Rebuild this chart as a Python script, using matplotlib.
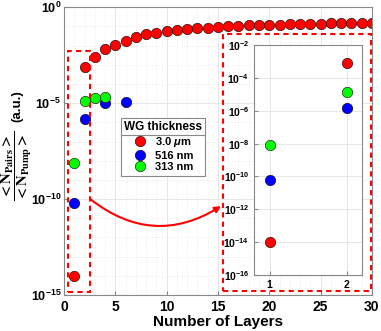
import numpy as np
import matplotlib
matplotlib.use("Agg")
import matplotlib.pyplot as plt
from matplotlib.patches import Rectangle
from matplotlib.lines import Line2D

plt.rcParams['font.family'] = ['Liberation Sans', 'DejaVu Sans']
plt.rcParams['font.weight'] = 'bold'
plt.rcParams['mathtext.fontset'] = 'custom'
plt.rcParams['mathtext.rm'] = 'Liberation Sans:bold'
plt.rcParams['mathtext.bf'] = 'Liberation Sans:bold'
plt.rcParams['mathtext.it'] = 'Liberation Sans:italic:bold'

# data (log10 of <N_pairs>/<N_pump>)
layers_red = list(range(1, 31))
log_red = [-14.0, -3.12, -2.59, -2.17, -1.97, -1.74, -1.55, -1.41, -1.32, -1.24,
           -1.20, -1.15, -1.09, -1.06, -1.02, -0.99, -0.97, -0.95, -0.93, -0.91,
           -0.90, -0.88, -0.87, -0.86, -0.85, -0.84, -0.83, -0.82, -0.81, -0.80]
layers_blue = [1, 2, 4, 6]
log_blue = [-10.2, -5.82, -4.99, -4.95]
layers_green = [1, 2, 3, 4]
log_green = [-8.1, -4.87, -4.73, -4.68]
labels = ['3.0 $\\mu$m', '516 nm', '313 nm']
colors = ['#ff0000', '#0000ff', '#00ff00']

series = [(layers_red, log_red), (layers_blue, log_blue), (layers_green, log_green)]

fig = plt.figure(figsize=(3.81, 3.31), dpi=100)
ax = fig.add_axes([0.168, 0.109, 0.808, 0.869])

for (xs, ys), c, lab in zip(series, colors, labels):
    ax.plot(xs, 10.0 ** np.array(ys), 'o', ms=7.5, mfc=c, mec='k', mew=0.4, label=lab)

ax.set_yscale('log')
ax.set_xlim(0, 30)
ax.set_ylim(1e-15, 1e0)
ax.set_xticks([0, 5, 10, 15, 20, 25, 30])
ax.set_xticks(np.arange(0, 31, 1), minor=True)
ax.set_yticks([1e-15, 1e-10, 1e-5, 1e0])
ax.set_yticklabels(['$\\mathbf{10^{-15}}$', '$\\mathbf{10^{-10}}$', '$\\mathbf{10^{-5}}$', '$\\mathbf{10^{0}}$'])
ax.set_yticks([10.0 ** k for k in range(-15, 1)], minor=True)
ax.yaxis.set_minor_formatter(plt.NullFormatter())
ax.tick_params(which='both', direction='in', color='#888888', labelsize=10)
ax.tick_params(axis='y', labelsize=9, pad=2)
ax.tick_params(which='minor', length=0)
ax.tick_params(which='major', length=3)
ax.grid(True, which='major', color='#e3e3e3', lw=0.6)
ax.grid(True, which='minor', color='#e6e6e6', lw=0.6, ls=(0, (1, 2)))
ax.set_axisbelow(True)
for s in ax.spines.values():
    s.set_color('#888888')
    s.set_linewidth(0.8)

ax.set_xlabel('Number of Layers', fontsize=11, fontweight='bold', labelpad=1)
# y label: big serif fraction plus "(a.u.)"
fig.text(17 / 381, 1 - 166 / 331, r'$\dfrac{<\mathbf{N_{Pairs}}>}{<\mathbf{N_{Pump}}>}$',
         rotation=90, fontsize=10.5, math_fontfamily='stix', ha='center', va='center')
fig.text(17 / 381, 1 - 106 / 331, '(a.u.)', rotation=90, fontsize=9.5,
         fontweight='bold', ha='center', va='center')

# dashed zoom boxes
box_kw = dict(fill=False, ec='#ff0000', lw=1.5, ls=(0, (2.5, 2)), clip_on=False, zorder=4)
ax.add_patch(Rectangle((0.36, 10 ** -14.83), 2.2, 10 ** -2.28 - 10 ** -14.83, **box_kw))
ax.add_patch(Rectangle((15.45, 10 ** -14.79), 14.5, 10 ** -1.41 - 10 ** -14.79, **box_kw))

ax.annotate('', xy=(15.3, 10 ** -10.37), xytext=(2.55, 1e-10),
            arrowprops=dict(arrowstyle='-|>', color='#ff0000', lw=1.5,
                            connectionstyle='arc3,rad=0.35', shrinkA=0, shrinkB=0,
                            mutation_scale=9))

leg = ax.legend(title='WG thickness', loc='upper left', bbox_to_anchor=(0.184, 0.615),
                borderaxespad=0, fontsize=8, title_fontsize=8.5, fancybox=False,
                edgecolor='#888888', framealpha=1, handletextpad=0.6,
                borderpad=0.3, labelspacing=0.15, handlelength=1.5)
leg.get_title().set_fontweight('bold')
leg.get_frame().set_linewidth(0.8)

# inset
axi = fig.add_axes([0.667, 0.169, 0.283, 0.695])
for (xs, ys), c in zip(series, colors):
    axi.plot(xs[:2], 10.0 ** np.array(ys[:2]), 'o', ms=7.5, mfc=c, mec='k', mew=0.4)
axi.set_yscale('log')
axi.set_xlim(0.8, 2.2)
axi.set_ylim(1e-16, 1e-2)
axi.set_xticks([1, 2])
axi.set_xticklabels(['1', '2'])
inset_exp = list(range(-16, -1, 2))
axi.set_yticks([10.0 ** k for k in inset_exp])
axi.set_yticklabels(['$\\mathbf{10^{%d}}$' % k for k in inset_exp])
axi.yaxis.set_minor_locator(plt.NullLocator())
axi.tick_params(direction='in', color='#888888', labelsize=7.5, length=3)
axi.grid(True, color='#e3e3e3', lw=0.6)
axi.set_axisbelow(True)
for s in axi.spines.values():
    s.set_color('#888888')
    s.set_linewidth(0.8)

# line under the legend title
fig.canvas.draw()
r = fig.canvas.get_renderer()
lb = leg.get_frame().get_window_extent(r)
tb = leg.get_title().get_window_extent(r)
yline = tb.y0 - 2
fig.add_artist(Line2D([lb.x0 / fig.bbox.width, lb.x1 / fig.bbox.width],
                      [yline / fig.bbox.height] * 2, color='#888888', lw=0.8))

fig.savefig('out.png', dpi=100)
